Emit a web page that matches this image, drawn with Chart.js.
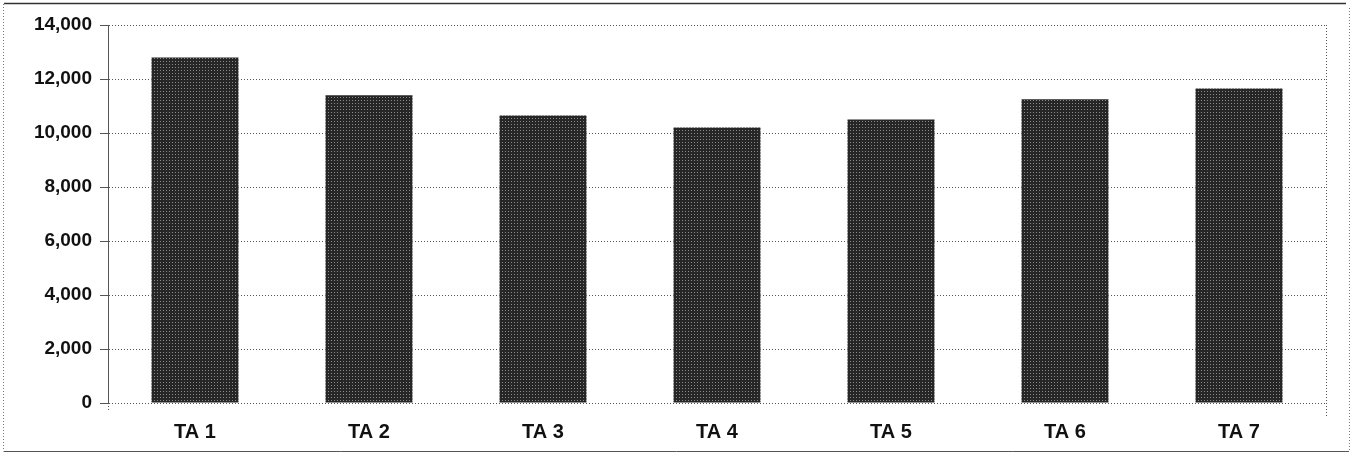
<!DOCTYPE html>
<html>
<head>
<meta charset="utf-8">
<script src="https://cdn.jsdelivr.net/npm/chart.js@4.4.1/dist/chart.umd.min.js"></script>
<style>
  html, body { margin: 0; padding: 0; background: #fff; }
  #wrap { position: relative; width: 1352px; height: 455px; }
</style>
</head>
<body>
<div id="wrap"><canvas id="c" width="1352" height="455"></canvas></div>
<script>
// Categories and values per site
const categories = ['TA 1', 'TA 2', 'TA 3', 'TA 4', 'TA 5', 'TA 6', 'TA 7'];
const values = [12800, 11400, 10650, 10200, 10500, 11250, 11650];
const yMin = 0;
const yMax = 14000;
const yStep = 2000;

// Halftone-like fill for the bars
function makeBarPattern() {
  const t = document.createElement('canvas');
  t.width = 3; t.height = 3;
  const g = t.getContext('2d');
  g.fillStyle = '#262626';
  g.fillRect(0, 0, 3, 3);
  g.fillStyle = '#8a8a8a';
  g.fillRect(1, 1, 1, 1);
  return g.createPattern(t, 'repeat');
}

const ctx = document.getElementById('c').getContext('2d');
const dotted = [1, 2];
const labelFont = 'Liberation Sans, Arial, sans-serif';

// Dotted plot frame on the right and the outer border of the figure
const framePlugin = {
  id: 'frame',
  afterDraw(chart) {
    const { ctx, chartArea: a } = chart;
    ctx.save();
    ctx.lineWidth = 1;
    ctx.strokeStyle = '#555';
    ctx.setLineDash(dotted);
    ctx.beginPath();
    ctx.moveTo(Math.round(a.right) + 0.5, a.top);
    ctx.lineTo(Math.round(a.right) + 0.5, a.bottom + 14);
    ctx.moveTo(Math.round(a.left) + 0.5, a.bottom);
    ctx.lineTo(Math.round(a.left) + 0.5, a.bottom + 9);
    ctx.stroke();

    // outer figure border
    ctx.strokeStyle = '#777';
    ctx.beginPath();
    ctx.moveTo(3.5, 4);
    ctx.lineTo(3.5, 451.5);
    ctx.moveTo(1349.5, 8);
    ctx.lineTo(1349.5, 451.5);
    ctx.stroke();
    ctx.setLineDash([]);
    ctx.strokeStyle = '#333';
    ctx.lineWidth = 1.5;
    ctx.beginPath();
    ctx.moveTo(4, 3.5);
    ctx.lineTo(1346, 3.5);
    ctx.stroke();
    ctx.lineWidth = 1;
    ctx.strokeStyle = '#555';
    ctx.beginPath();
    ctx.moveTo(4, 451.5);
    ctx.lineTo(1349, 451.5);
    ctx.stroke();
    ctx.restore();
  }
};

new Chart(ctx, {
  type: 'bar',
  data: {
    labels: categories,
    datasets: [{
      data: values,
      backgroundColor: makeBarPattern(),
      borderWidth: 0,
      barPercentage: 0.5,
      categoryPercentage: 1.0
    }]
  },
  options: {
    responsive: false,
    animation: false,
    devicePixelRatio: 1,
    layout: { padding: { left: 0, top: 25, right: 26, bottom: 0 } },
    plugins: { legend: { display: false }, tooltip: { enabled: false } },
    scales: {
      x: {
        grid: { display: false, drawTicks: false },
        border: { display: false },
        ticks: {
          color: '#111',
          padding: 17,
          font: { family: labelFont, size: 20, weight: 'bold' }
        },
        afterFit(s) { s.height = 52; }
      },
      y: {
        min: yMin,
        max: yMax,
        ticks: {
          stepSize: yStep,
          color: '#111',
          padding: 8,
          font: { family: labelFont, size: 19, weight: 'bold' },
          callback: v => v.toLocaleString('en-US')
        },
        grid: {
          color: '#555',
          lineWidth: 1,
          tickLength: 8,
          tickColor: '#555'
        },
        border: { display: true, color: '#555', dash: dotted },
        afterFit(s) { s.width = 108; }
      }
    }
  },
  plugins: [framePlugin]
});
</script>
</body>
</html>
